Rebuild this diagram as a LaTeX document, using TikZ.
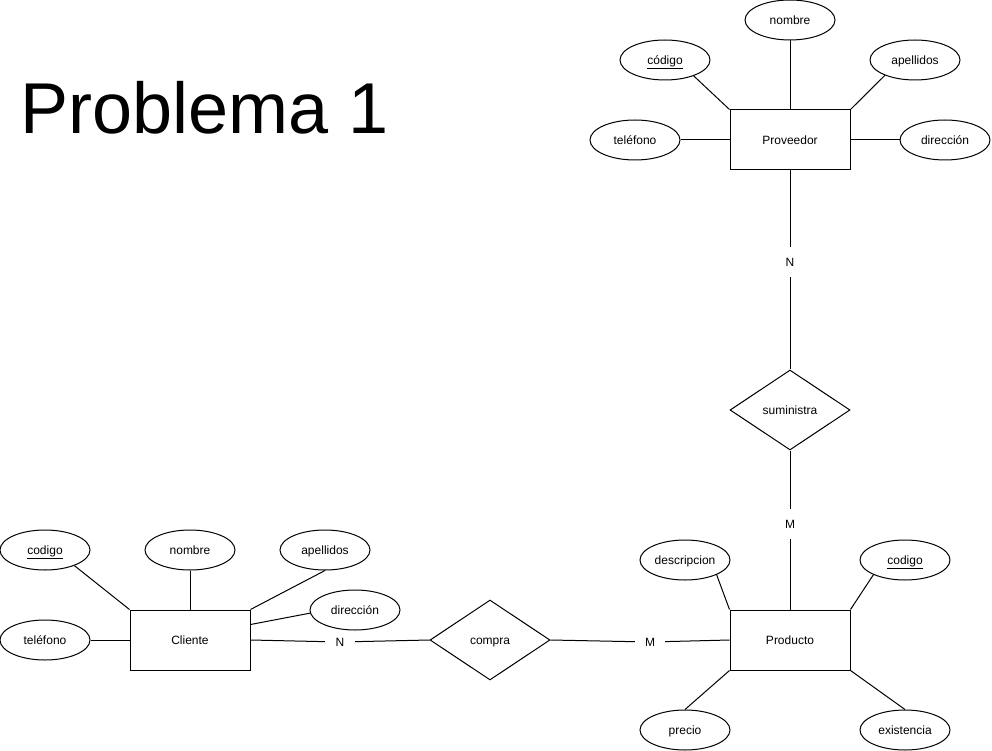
\documentclass[tikz,border=0pt]{standalone}
\usepackage{fontspec}
\setmainfont{Liberation Sans}
\usetikzlibrary{shapes.geometric}
\begin{document}
\begin{tikzpicture}[x=1pt,y=-1pt,
  small/.style={font=\fontsize{12}{14}\selectfont,text height=9.8pt,text depth=1.4pt},
  entity/.style={small,draw,line width=1pt,rectangle,minimum width=120pt,minimum height=60pt,inner sep=0pt},
  attr/.style={small,draw,line width=1pt,ellipse,minimum width=90pt,minimum height=40pt,inner sep=0pt},
  rel/.style={small,draw,line width=1pt,diamond,aspect=1.5,minimum width=120pt,minimum height=80pt,inner sep=0pt},
  card/.style={small,minimum width=30pt,minimum height=30pt,inner sep=0pt},
  conn/.style={line width=1pt}]
\useasboundingbox (0,0) rectangle (992,751);

\node[anchor=base west,inner sep=0pt,font=\fontsize{72}{80}\selectfont] (title) at (20,134) {Problema 1};

% Proveedor
\node[entity] (prov) at (790,140) {Proveedor};
\node[attr] (pnom) at (790,20) {nombre};
\node[attr] (pcod) at (665,60) {\underline{código}};
\node[attr] (pape) at (915,60) {apellidos};
\node[attr] (ptel) at (635,140) {teléfono};
\node[attr] (pdir) at (945,140) {dirección};
\draw[conn] (pnom) -- (prov);
\draw[conn] (pcod.-29) -- (prov.north west);
\draw[conn] (pape.207) -- (prov.north east);
\draw[conn] (ptel) -- (prov);
\draw[conn] (pdir) -- (prov);

% suministra
\node[card] (n2) at (790,262) {N};
\node[rel] (sum) at (790,410) {suministra};
\node[card] (m2) at (790,524) {M};

% Producto
\node[entity] (prod) at (790,640) {Producto};
\node[attr] (rdesc) at (685,560) {descripcion};
\node[attr] (rcod) at (905,560) {\underline{codigo}};
\node[attr] (rpre) at (685,730) {precio};
\node[attr] (rexi) at (905,730) {existencia};
\draw[conn] (rdesc.-25) -- (prod.north west);
\draw[conn] (rcod.205) -- (prod.north east);
\draw[conn] (rpre.north) -- (prod.south west);
\draw[conn] (rexi.north) -- (prod.south east);

\draw[conn] (prov) -- (n2) -- (sum) -- (m2) -- (prod);

% Cliente
\node[entity] (cli) at (190,640) {Cliente};
\node[attr] (ccod) at (45,550) {\underline{codigo}};
\node[attr] (cnom) at (190,550) {nombre};
\node[attr] (cape) at (325,550) {apellidos};
\node[attr] (cdir) at (355,610) {dirección};
\node[attr] (ctel) at (45,640) {teléfono};
\draw[conn] (ccod.-28) -- (cli.north west);
\draw[conn] (cnom) -- (cli);
\draw[conn] (cape.south) -- (cli.north east);
\draw[conn] (cdir.184) -- ([yshift=-15pt]cli.north east);
\draw[conn] (ctel) -- (cli);

% compra
\node[rel] (comp) at (490,640) {compra};
\node[card] (n1) at (340,642) {N};
\node[card] (m1) at (650,642) {M};
\draw[conn] (cli.east) -- (n1) -- (comp.west);
\draw[conn] (comp.east) -- (m1) -- (prod.west);
\end{tikzpicture}
\end{document}
